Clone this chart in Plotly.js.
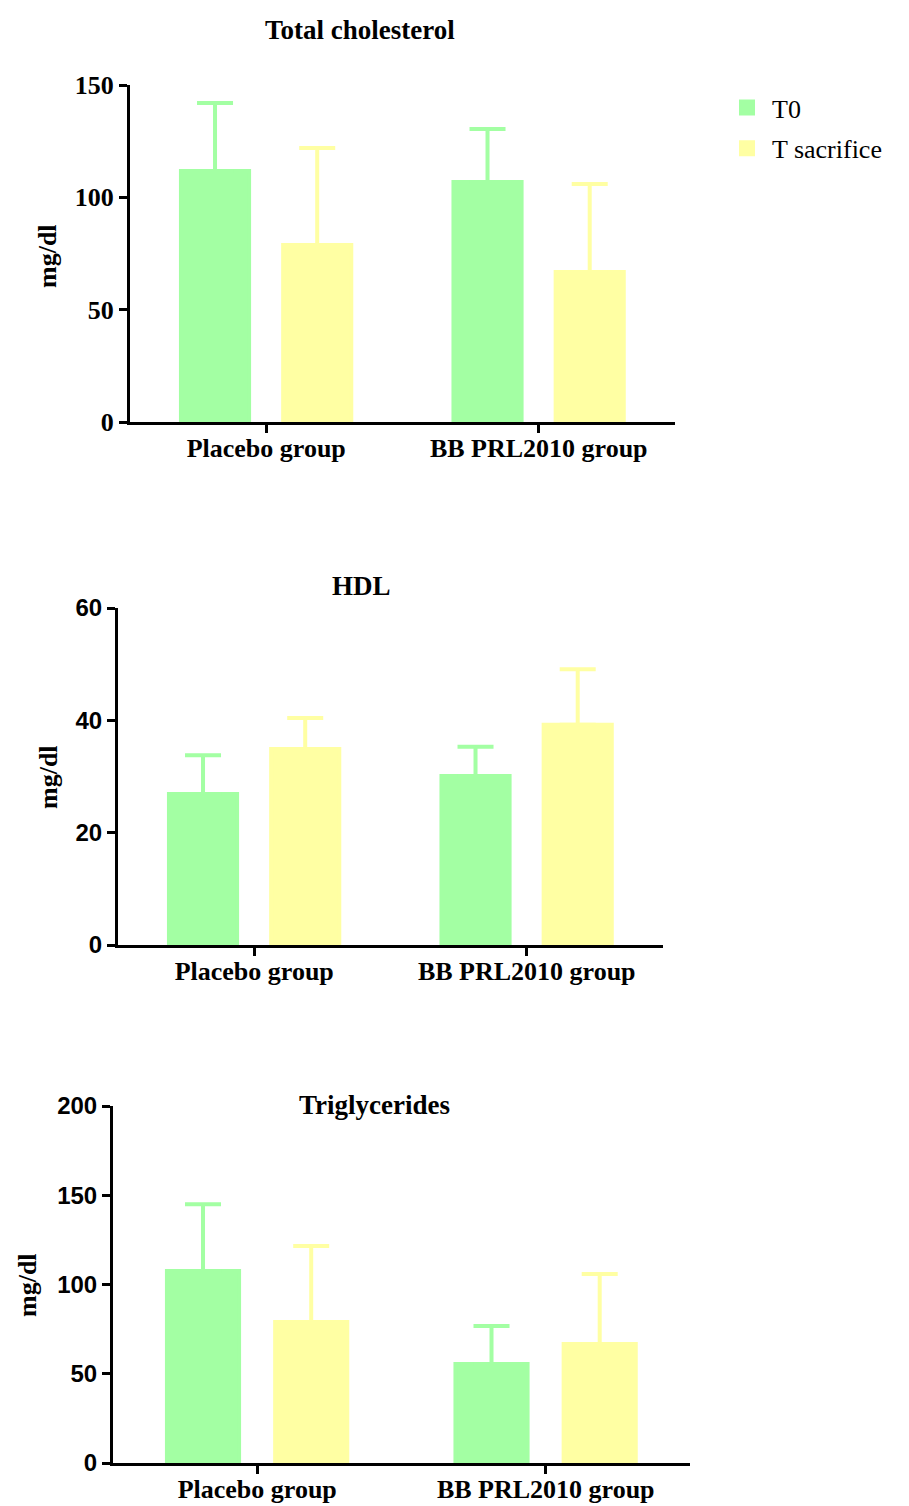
<!DOCTYPE html>
<html>
<head>
<meta charset="utf-8">
<script src="https://cdn.plot.ly/plotly-3.0.1.min.js"></script>
<style>html,body{margin:0;padding:0;background:#fff;}#chart{width:909px;height:1506px;}</style>
</head>
<body>
<div id="chart"></div>
<script>
const categories = ['Placebo group', 'BB PRL2010 group'];
const seriesNames = ['T0', 'T sacrifice'];

// Total cholesterol (mg/dl)
const tcT0 = [111.7, 106.8];
const tcT0SD = [30.3, 23.6];
const tcTs = [78.8, 66.8];
const tcTsSD = [43.2, 39.1];

// HDL (mg/dl)
const hdlT0 = [26.9, 30.1];
const hdlT0SD = [6.9, 5.2];
const hdlTs = [34.9, 39.2];
const hdlTsSD = [5.5, 9.9];

// Triglycerides (mg/dl)
const tgT0 = [107.6, 55.5];
const tgT0SD = [37.4, 21.2];
const tgTs = [79.0, 66.7];
const tgTsSD = [42.6, 39.2];

const panelTitles = ['Total cholesterol', 'HDL', 'Triglycerides'];
const yTickVals = [[0, 50, 100, 150], [0, 20, 40, 60], [0, 50, 100, 150, 200]];

const W = 909, H = 1506;
const green = '#A3FFA3';
const yellow = '#FFFFA3';
const serif = 'Liberation Serif, Times New Roman, serif';
const sans = 'Liberation Sans, Arial, sans-serif';

function bar(x, y, sd, name, color, xa, ya, off, show) {
  return {
    type: 'bar', x: x, y: y, name: name, xaxis: xa, yaxis: ya,
    marker: {color: color, line: {width: 4, color: color}},
    width: 0.25, offset: off,
    showlegend: show, legendgroup: name,
    error_y: {type: 'data', symmetric: false, array: sd, arrayminus: sd.map(() => 0),
              color: color, thickness: 4, width: 18},
    hoverinfo: 'skip'
  };
}

const data = [
  bar(categories, tcT0, tcT0SD, seriesNames[0], green, 'x', 'y', -0.313, true),
  bar(categories, tcTs, tcTsSD, seriesNames[1], yellow, 'x', 'y', 0.062, true),
  bar(categories, hdlT0, hdlT0SD, seriesNames[0], green, 'x2', 'y2', -0.313, false),
  bar(categories, hdlTs, hdlTsSD, seriesNames[1], yellow, 'x2', 'y2', 0.062, false),
  bar(categories, tgT0, tgT0SD, seriesNames[0], green, 'x3', 'y3', -0.313, false),
  bar(categories, tgTs, tgTsSD, seriesNames[1], yellow, 'x3', 'y3', 0.062, false)
];

function xax(x0, x1, anchor) {
  return {
    domain: [x0 / W, x1 / W], anchor: anchor, type: 'category', range: [-0.5, 1.5],
    showline: true, linecolor: '#000', linewidth: 3, ticks: 'outside', ticklen: 8,
    tickwidth: 3, tickcolor: '#000', showgrid: false, zeroline: false,
    ticklabelstandoff: -7,
    tickfont: {family: serif, size: 26, color: '#000', weight: 'bold'}, fixedrange: true
  };
}
function yax(top, bottom, maxv, tv, anchor, fontFam, fs) {
  return {
    domain: [1 - bottom / H, 1 - top / H], anchor: anchor, range: [0, maxv],
    tickvals: tv, ticktext: tv.map(String),
    showline: true, linecolor: '#000', linewidth: 3, ticks: 'outside', ticklen: 8,
    tickwidth: 3, tickcolor: '#000', showgrid: false, zeroline: false,
    tickfont: {family: fontFam, size: fs, color: '#000', weight: 'bold'}, fixedrange: true
  };
}

function ann(text, x, y, size, angle) {
  return {text: text, x: x / W, y: 1 - y / H, xref: 'paper', yref: 'paper',
          xanchor: 'center', yanchor: 'middle', showarrow: false, textangle: angle || 0,
          font: {family: serif, size: size, color: '#000', weight: 'bold'}};
}

const layout = {
  width: W, height: H,
  margin: {l: 0, r: 0, t: 0, b: 0},
  paper_bgcolor: '#fff', plot_bgcolor: '#fff',
  barmode: 'overlay',
  showlegend: true,
  legend: {x: 722 / W, y: 1 - 84 / H, xanchor: 'left', yanchor: 'top',
           font: {family: serif, size: 26, color: '#000'}, itemwidth: 40,
           bgcolor: 'rgba(0,0,0,0)', tracegroupgap: 4},
  xaxis: xax(130, 675, 'y'),
  yaxis: yax(85, 422, 150, yTickVals[0], 'x', serif, 26),
  xaxis2: xax(118, 663, 'y2'),
  yaxis2: yax(608, 945, 60, yTickVals[1], 'x2', sans, 24),
  xaxis3: xax(113, 690, 'y3'),
  yaxis3: yax(1106, 1463, 200, yTickVals[2], 'x3', sans, 24),
  annotations: [
    ann(panelTitles[0], 360, 30, 27),
    ann(panelTitles[1], 361, 586, 27),
    ann(panelTitles[2], 374, 1105, 27),
    ann('mg/dl', 48, 256, 26, -90),
    ann('mg/dl', 48, 777, 26, -90),
    ann('mg/dl', 27, 1285, 26, -90)
  ]
};

Plotly.newPlot('chart', data, layout, {staticPlot: true, displayModeBar: false});
</script>
</body>
</html>
